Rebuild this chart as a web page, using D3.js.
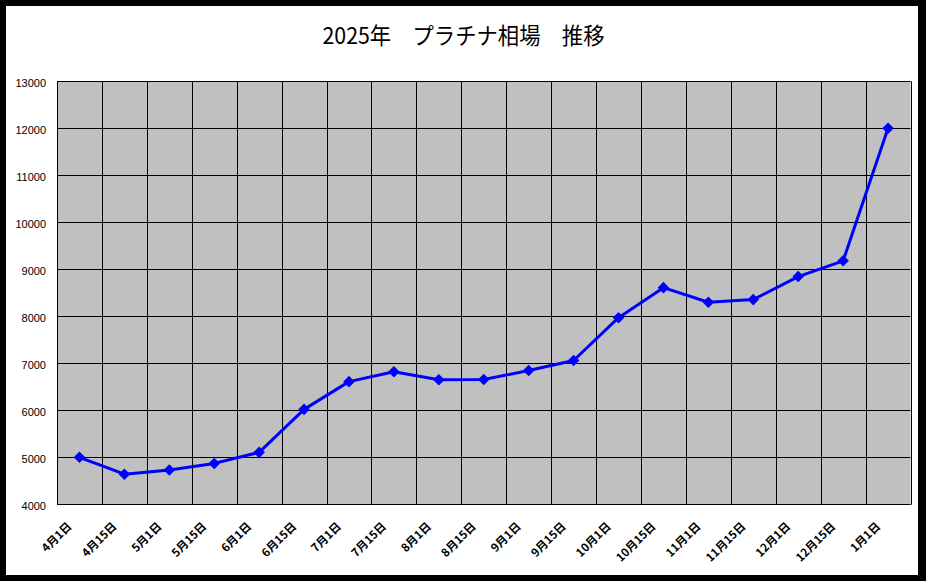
<!DOCTYPE html>
<html><head><meta charset="utf-8">
<script src="https://cdn.jsdelivr.net/npm/d3@7"></script>
<style>html,body{margin:0;padding:0;background:#000;}svg{display:block;}</style>
</head><body>
<script>
const title = "2025年　プラチナ相場　推移";
const categories = ["4月1日","4月15日","5月1日","5月15日","6月1日","6月15日","7月1日","7月15日","8月1日","8月15日","9月1日","9月15日","10月1日","10月15日","11月1日","11月15日","12月1日","12月15日","1月1日"];
const values = [5000,4640,4730,4870,5105,6020,6610,6820,6650,6655,6845,7060,7970,8610,8300,8355,8845,9180,12000];
const yTicks = [4000,5000,6000,7000,8000,9000,10000,11000,12000,13000];

const W = 926, H = 581;
const svg = d3.select("body").append("svg").attr("width", W).attr("height", H);
svg.append("rect").attr("width", W).attr("height", H).attr("fill", "#000");
svg.append("rect").attr("x", 6).attr("y", 6).attr("width", 912).attr("height", 569).attr("fill", "#fff");

const L = 57, R = 910.5, T = 81.3, B = 504.3;
const x = d3.scaleBand().domain(categories).range([L, R]).padding(0);
const y = d3.scaleLinear().domain([4000, 13000]).range([B, T]);

svg.append("rect").attr("x", L).attr("y", T).attr("width", R - L).attr("height", B - T).attr("fill", "#C0C0C0");

const g = svg.append("g");
g.selectAll("line.h").data(yTicks).enter().append("line")
  .attr("x1", L).attr("x2", R).attr("y1", d => Math.round(y(d)) + 0.5).attr("y2", d => Math.round(y(d)) + 0.5)
  .attr("stroke", "#000").attr("stroke-width", 1);
const bounds = categories.map(c => x(c)).concat([R]);
g.selectAll("line.v").data(bounds).enter().append("line")
  .attr("x1", d => Math.round(d) + 0.5).attr("x2", d => Math.round(d) + 0.5)
  .attr("y1", T).attr("y2", B + 0.5)
  .attr("stroke", "#000").attr("stroke-width", 1);

svg.selectAll("text.yl").data(yTicks).enter().append("text")
  .attr("x", 46).attr("y", d => y(d) + 6)
  .attr("text-anchor", "end")
  .attr("font-family", "'Liberation Sans', Arial, sans-serif")
  .attr("font-size", 11).attr("fill", "#000")
  .text(d => d);

svg.selectAll("text.xl").data(categories).enter().append("text")
  .attr("transform", d => `translate(${x(d) + x.bandwidth() / 2 - 7},${527}) rotate(-45)`)
  .attr("text-anchor", "end")
  .attr("font-family", "'Noto Sans CJK JP', sans-serif")
  .attr("font-weight", "bold")
  .attr("font-size", 11.5).attr("fill", "#000")
  .text(d => d);

const cx = (d, i) => x(categories[i]) + x.bandwidth() / 2;
svg.append("path").datum(values)
  .attr("d", d3.line().x((d, i) => cx(d, i)).y(d => y(d)))
  .attr("fill", "none").attr("stroke", "#0000FF").attr("stroke-width", 3).attr("stroke-linejoin", "round");

svg.selectAll("path.m").data(values).enter().append("path")
  .attr("d", d3.symbol().type(d3.symbolDiamond2).size(85))
  .attr("transform", (d, i) => `translate(${cx(d, i)},${y(d)})`)
  .attr("fill", "#0000FF");

svg.append("text")
  .attr("x", 322.5).attr("y", 44)
  .attr("font-family", "'Noto Sans CJK JP', sans-serif")
  .attr("font-size", 23).attr("fill", "#000")
  .attr("textLength", 282).attr("lengthAdjust", "spacingAndGlyphs")
  .text(title);
</script>
</body></html>
